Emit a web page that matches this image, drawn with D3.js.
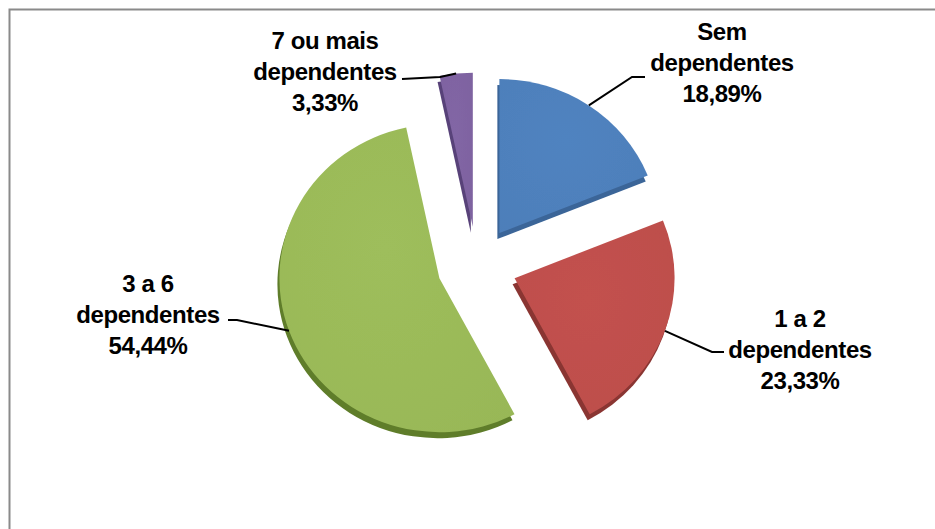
<!DOCTYPE html>
<html>
<head>
<meta charset="utf-8">
<script src="https://cdn.jsdelivr.net/npm/d3@7"></script>
<style>
  html, body { margin: 0; padding: 0; background: #ffffff; }
  svg { display: block; }
</style>
</head>
<body>
<svg id="chart" width="935" height="529"></svg>
<script>
// ---- data ----
const categories = ["Sem dependentes", "1 a 2 dependentes", "3 a 6 dependentes", "7 ou mais dependentes"];
const values = [18.89, 23.33, 54.44, 3.33];
const valueLabels = ["18,89%", "23,33%", "54,44%", "3,33%"];
const labelLines = [["Sem", "dependentes"], ["1 a 2", "dependentes"], ["3 a 6", "dependentes"], ["7 ou mais", "dependentes"]];

// ---- style / layout ----
const topColors = ["#4f81bd", "#c0504d", "#9bbb59", "#8064a2"];
const sideColors = ["#3b6598", "#8a3533", "#5f7d2a", "#584279"];
const cx = 477, cy = 265;
const rx = 160, ky = 0.9625;     // horizontal radius and vertical squash
const explode = 40;
const depth = { dx: -2, dy: 6 };
const labelLayout = [
  { x: 722, y: 40, elbow: [632, 77], end: [645, 77] },
  { x: 800, y: 327, elbow: [712, 352], end: [724, 352] },
  { x: 148, y: 292, elbow: [237, 320], end: [228, 320] },
  { x: 325, y: 49, elbow: [440, 77], end: [402, 79] }
];
const lineGap = 31;

const svg = d3.select("#chart");

// border
svg.append("rect")
  .attr("x", 9.5).attr("y", 9.5)
  .attr("width", 1000).attr("height", 600)
  .attr("fill", "#ffffff")
  .attr("stroke", "#8a8a8a")
  .attr("stroke-width", 2);

const pie = d3.pie().sort(null).value(d => d)
  .startAngle(0).endAngle(2 * Math.PI);
const arcs = pie(values);
const arc = d3.arc().innerRadius(0).outerRadius(rx);

const defs = svg.append("defs");
topColors.forEach((c, i) => {
  const g = defs.append("radialGradient")
    .attr("id", "g" + i).attr("cx", "45%").attr("cy", "40%").attr("r", "80%");
  g.append("stop").attr("offset", "0%").attr("stop-color", d3.color(c).brighter(0.05));
  g.append("stop").attr("offset", "100%").attr("stop-color", d3.color(c).darker(0.06));
});

const blur = defs.append("filter").attr("id", "soft");
blur.append("feGaussianBlur").attr("stdDeviation", 0.6);

arcs.forEach((a, i) => {
  const mid = (a.startAngle + a.endAngle) / 2;
  const ox = explode * Math.sin(mid);
  const oy = -explode * Math.cos(mid);
  svg.append("g")
    .attr("transform", `translate(${cx + depth.dx},${cy + depth.dy}) scale(1,${ky})`)
    .append("path")
    .attr("transform", `translate(${ox},${oy})`)
    .attr("d", arc(a))
    .attr("fill", sideColors[i])
    .attr("filter", "url(#soft)");
  svg.append("g")
    .attr("transform", `translate(${cx},${cy}) scale(1,${ky})`)
    .append("path")
    .attr("transform", `translate(${ox},${oy})`)
    .attr("d", arc(a))
    .attr("fill", `url(#g${i})`)
    .attr("filter", "url(#soft)");
});

arcs.forEach((a, i) => {
  const mid = (a.startAngle + a.endAngle) / 2;
  const R = rx + explode;
  const ax = cx + R * Math.sin(mid);
  const ay = cy - R * Math.cos(mid) * ky;
  const L = labelLayout[i];
  svg.append("polyline")
    .attr("points", [[ax, ay], L.elbow, L.end].map(p => p.join(",")).join(" "))
    .attr("fill", "none")
    .attr("stroke", "#000")
    .attr("stroke-width", 2);

  const lines = labelLines[i].concat([valueLabels[i]]);
  const t = svg.append("text")
    .attr("text-anchor", "middle")
    .attr("font-family", "'Liberation Sans', Arial, sans-serif")
    .attr("font-weight", "bold")
    .attr("font-size", 24)
    .attr("letter-spacing", -0.4)
    .attr("fill", "#000");
  lines.forEach((s, k) => {
    t.append("tspan").attr("x", L.x).attr("y", L.y + k * lineGap).text(s);
  });
});
</script>
</body>
</html>
